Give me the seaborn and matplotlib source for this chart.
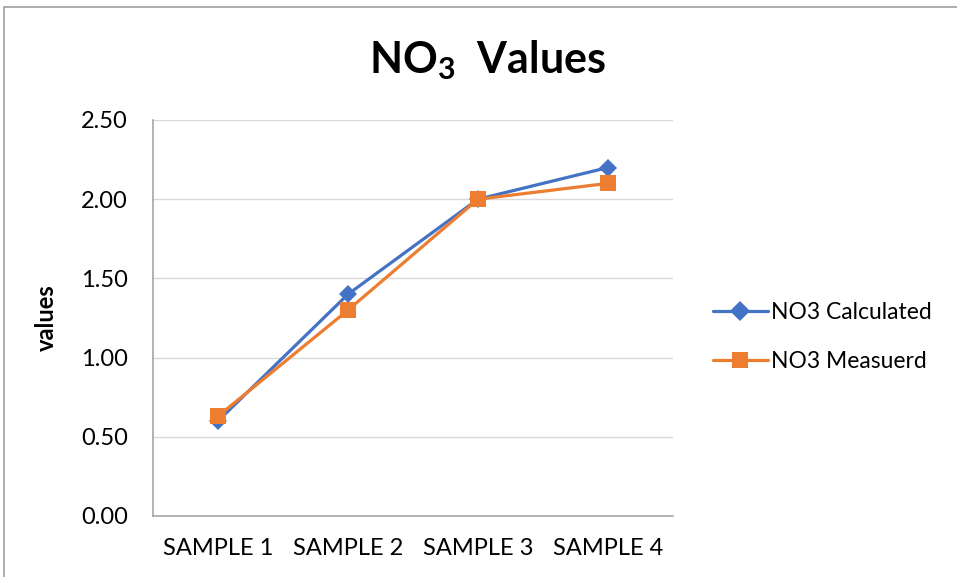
import matplotlib
matplotlib.use("Agg")
import matplotlib.pyplot as plt
import seaborn as sns
import pandas as pd
from matplotlib.patches import Rectangle

samples = ["SAMPLE 1", "SAMPLE 2", "SAMPLE 3", "SAMPLE 4"]
no3_calculated = [0.60, 1.40, 2.00, 2.20]
no3_measured = [0.63, 1.30, 2.00, 2.10]
y_ticks = [0.0, 0.5, 1.0, 1.5, 2.0, 2.5]

series_names = ["NO3 Calculated", "NO3 Measuerd"]
df = pd.DataFrame({
    "sample": samples * 2,
    "value": no3_calculated + no3_measured,
    "series": [series_names[0]] * 4 + [series_names[1]] * 4,
})

sns.set_theme(style="white")
plt.rcParams["font.family"] = ["Lato", "DejaVu Sans"]
plt.rcParams["text.color"] = "black"
plt.rcParams["mathtext.fontset"] = "custom"
plt.rcParams["mathtext.bf"] = "Lato:bold"
plt.rcParams["mathtext.rm"] = "Lato"

W, H = 957, 577
fig = plt.figure(figsize=(W / 100, H / 100), dpi=100)
ax = fig.add_axes([153 / W, 1 - 516 / H, 520 / W, 396 / H])

palette = {series_names[0]: "#4472C4", series_names[1]: "#ED7D31"}
markers = {series_names[0]: "D", series_names[1]: "s"}
sns.lineplot(data=df, x="sample", y="value", hue="series", style="series",
             palette=palette, markers=markers, dashes=False, linewidth=2.3,
             markersize=12, markeredgewidth=0, ax=ax, sort=False)
# diamond slightly smaller than square
for line in ax.get_lines():
    if line.get_marker() == "D":
        line.set_markersize(9.5)

ax.set_xlim(-0.5, 3.5)
ax.set_ylim(0, 2.5)
ax.set_yticks(y_ticks)
ax.set_yticklabels([f"{v:.2f}" for v in y_ticks])
ax.yaxis.grid(True, color="#d9d9d9", linewidth=1.0)
ax.set_axisbelow(True)
for side in ["top", "right"]:
    ax.spines[side].set_visible(False)
for side in ["left", "bottom"]:
    ax.spines[side].set_color("#a6a6a6")
    ax.spines[side].set_linewidth(1.2)
ax.tick_params(axis="both", length=0, labelsize=17, colors="black")
ax.tick_params(axis="x", pad=16)
ax.tick_params(axis="y", pad=18)
ax.set_xlabel("")
ax.set_ylabel("values", fontsize=17, fontweight="bold", color="black")
ax.yaxis.set_label_coords((58 - 153) / 520, 0.5)

handles, labels = ax.get_legend_handles_labels()
for h in handles:
    if h.get_marker() == "D":
        h.set_markersize(10)
    else:
        h.set_markersize(12)
ax.legend(handles, labels, loc="center left", bbox_to_anchor=(692 / W, 1 - 337 / H),
          bbox_transform=fig.transFigure, frameon=False, fontsize=16.5,
          handlelength=2.4, handletextpad=0.15, labelspacing=1.2)

fig.text(487 / W, 1 - 60 / H, r"$\mathbf{NO}_{\mathbf{3}}$  Values", ha="center",
         va="center", fontsize=31, fontweight="bold", color="black")

# chart area border
fig.add_artist(Rectangle((4 / W, -0.1), 1.2, 1 - 7 / H + 0.1, transform=fig.transFigure,
                         fill=False, edgecolor="#a0a0a0", linewidth=1.2))

fig.savefig("out.png", dpi=100, facecolor="white")
